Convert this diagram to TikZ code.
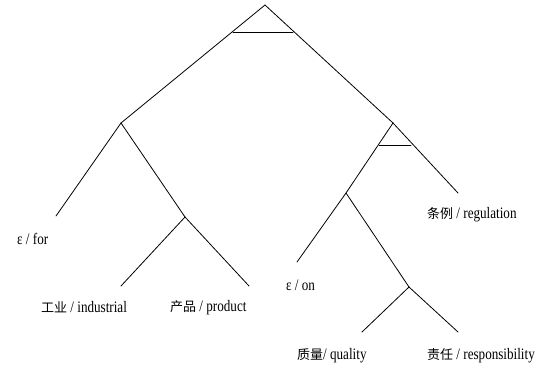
\documentclass[tikz,border=0pt]{standalone}
\usepackage{fontspec}
\setmainfont{Liberation Serif}[FakeStretch=0.82]
\newfontfamily\cjkfam{Noto Sans CJK SC}
\newcommand\cjktxt[1]{{\fontsize{13}{13}\selectfont\cjkfam #1}}
\begin{document}
\begin{tikzpicture}[x=1pt,y=-1pt,
  edge/.style={line width=0.8pt, line cap=round},
  lbl/.style={anchor=base west, inner sep=0pt, font=\fontsize{16}{16}\selectfont}]
\useasboundingbox (0,0) rectangle (545,368);
% internal points
\coordinate (A) at (265,5);
\coordinate (L1) at (121,123);
\coordinate (R1) at (393,123);
\coordinate (M) at (185,217);
\coordinate (N) at (346,193);
\coordinate (Q) at (409,287);
% leaf ends
\coordinate (eFor) at (56,216);
\coordinate (eInd) at (121,286);
\coordinate (eProd) at (249,286);
\coordinate (eOn) at (297,262);
\coordinate (eReg) at (458,193);
\coordinate (eQual) at (362,332);
\coordinate (eResp) at (458,332);
% triangle bars
\coordinate (b1l) at (233,32);
\coordinate (b1r) at (293,32);
\coordinate (b2l) at (379,145);
\coordinate (b2r) at (411,145);
% edges
\draw[edge] (L1) -- (A) -- (R1);
\draw[edge] (b1l) -- (b1r);
\draw[edge] (L1) -- (eFor);
\draw[edge] (L1) -- (M);
\draw[edge] (M) -- (eInd);
\draw[edge] (M) -- (eProd);
\draw[edge] (R1) -- (eReg);
\draw[edge] (R1) -- (N) -- (eOn);
\draw[edge] (b2l) -- (b2r);
\draw[edge] (N) -- (Q);
\draw[edge] (Q) -- (eQual);
\draw[edge] (Q) -- (eResp);
% labels
\node[lbl] (for) at (17,244) {ε / for};
\node[lbl] (ind) at (41,312) {\cjktxt{工业} / industrial};
\node[lbl] (prod) at (170,311) {\cjktxt{产品} / product};
\node[lbl] (on) at (286,290) {ε / on};
\node[lbl] (reg) at (427,218) {\cjktxt{条例} / regulation};
\node[lbl] (qual) at (297,359) {\cjktxt{质量}/ quality};
\node[lbl] (resp) at (427,359) {\cjktxt{责任} / responsibility};
\end{tikzpicture}
\end{document}
